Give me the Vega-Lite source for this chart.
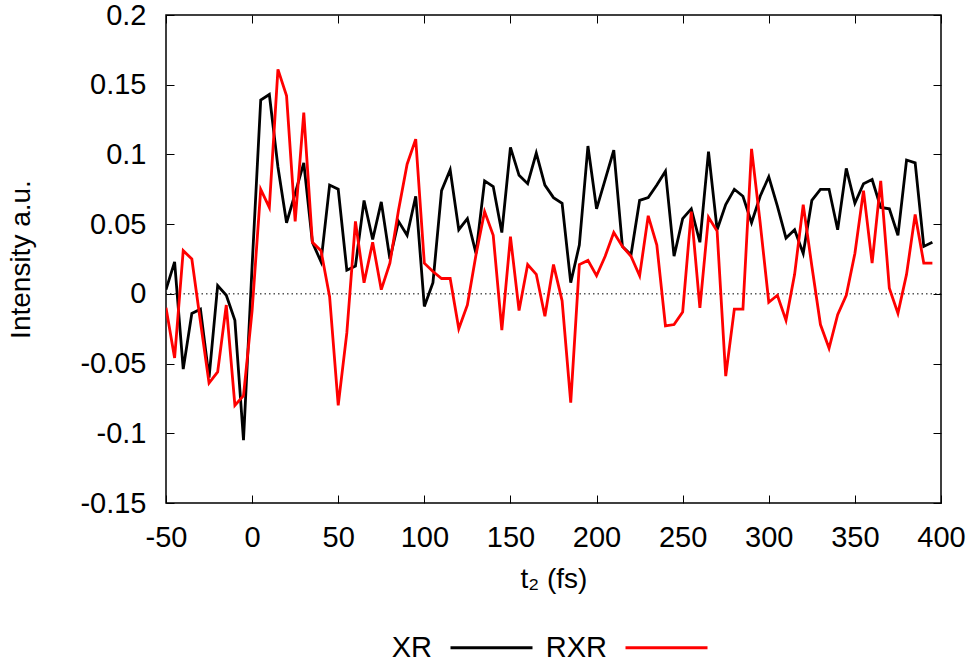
{
  "$schema": "https://vega.github.io/schema/vega-lite/v6.json",
  "autosize": "none",
  "padding": {"left": 166, "top": 15, "right": 34, "bottom": 159},
  "width": 775,
  "height": 488,
  "background": "white",
  "config": {
    "font": "Liberation Sans",
    "view": {"stroke": "black", "strokeWidth": 1.5},
    "axis": {"grid": false, "domain": false, "ticks": true, "tickColor": "black", "tickWidth": 1, "tickSize": -8, "labelFlush": false,
             "labelFont": "Liberation Sans", "labelFontSize": 29, "labelColor": "black",
             "titleFont": "Liberation Sans", "titleFontSize": 28, "titleFontWeight": "normal", "titleColor": "black"}
  },
  "datasets": {
    "series": [
      {"t": -50, "series": "XR", "value": 0.003}, {"t": -45, "series": "XR", "value": 0.023}, {"t": -40, "series": "XR", "value": -0.054},
      {"t": -35, "series": "XR", "value": -0.014}, {"t": -30, "series": "XR", "value": -0.011}, {"t": -25, "series": "XR", "value": -0.060},
      {"t": -20, "series": "XR", "value": 0.006}, {"t": -15, "series": "XR", "value": -0.001}, {"t": -10, "series": "XR", "value": -0.019},
      {"t": -5, "series": "XR", "value": -0.105}, {"t": 0, "series": "XR", "value": 0.02}, {"t": 5, "series": "XR", "value": 0.139},
      {"t": 10, "series": "XR", "value": 0.143}, {"t": 15, "series": "XR", "value": 0.091}, {"t": 20, "series": "XR", "value": 0.051},
      {"t": 25, "series": "XR", "value": 0.072}, {"t": 30, "series": "XR", "value": 0.094}, {"t": 35, "series": "XR", "value": 0.037},
      {"t": 40, "series": "XR", "value": 0.023}, {"t": 45, "series": "XR", "value": 0.078}, {"t": 50, "series": "XR", "value": 0.075},
      {"t": 55, "series": "XR", "value": 0.017}, {"t": 60, "series": "XR", "value": 0.020}, {"t": 65, "series": "XR", "value": 0.067},
      {"t": 70, "series": "XR", "value": 0.039}, {"t": 75, "series": "XR", "value": 0.066}, {"t": 80, "series": "XR", "value": 0.025},
      {"t": 85, "series": "XR", "value": 0.052}, {"t": 90, "series": "XR", "value": 0.042}, {"t": 95, "series": "XR", "value": 0.070},
      {"t": 100, "series": "XR", "value": -0.009}, {"t": 105, "series": "XR", "value": 0.008}, {"t": 110, "series": "XR", "value": 0.074},
      {"t": 115, "series": "XR", "value": 0.089}, {"t": 120, "series": "XR", "value": 0.046}, {"t": 125, "series": "XR", "value": 0.054},
      {"t": 130, "series": "XR", "value": 0.029}, {"t": 135, "series": "XR", "value": 0.081}, {"t": 140, "series": "XR", "value": 0.077},
      {"t": 145, "series": "XR", "value": 0.044}, {"t": 150, "series": "XR", "value": 0.105}, {"t": 155, "series": "XR", "value": 0.085},
      {"t": 160, "series": "XR", "value": 0.079}, {"t": 165, "series": "XR", "value": 0.101}, {"t": 170, "series": "XR", "value": 0.078},
      {"t": 175, "series": "XR", "value": 0.069}, {"t": 180, "series": "XR", "value": 0.065}, {"t": 185, "series": "XR", "value": 0.008},
      {"t": 190, "series": "XR", "value": 0.035}, {"t": 195, "series": "XR", "value": 0.106}, {"t": 200, "series": "XR", "value": 0.061},
      {"t": 205, "series": "XR", "value": 0.082}, {"t": 210, "series": "XR", "value": 0.103}, {"t": 215, "series": "XR", "value": 0.034},
      {"t": 220, "series": "XR", "value": 0.028}, {"t": 225, "series": "XR", "value": 0.067}, {"t": 230, "series": "XR", "value": 0.069},
      {"t": 235, "series": "XR", "value": 0.078}, {"t": 240, "series": "XR", "value": 0.088}, {"t": 245, "series": "XR", "value": 0.027},
      {"t": 250, "series": "XR", "value": 0.054}, {"t": 255, "series": "XR", "value": 0.061}, {"t": 260, "series": "XR", "value": 0.037},
      {"t": 265, "series": "XR", "value": 0.102}, {"t": 270, "series": "XR", "value": 0.046}, {"t": 275, "series": "XR", "value": 0.064},
      {"t": 280, "series": "XR", "value": 0.075}, {"t": 285, "series": "XR", "value": 0.070}, {"t": 290, "series": "XR", "value": 0.051},
      {"t": 295, "series": "XR", "value": 0.070}, {"t": 300, "series": "XR", "value": 0.084}, {"t": 305, "series": "XR", "value": 0.063},
      {"t": 310, "series": "XR", "value": 0.040}, {"t": 315, "series": "XR", "value": 0.046}, {"t": 320, "series": "XR", "value": 0.029},
      {"t": 325, "series": "XR", "value": 0.067}, {"t": 330, "series": "XR", "value": 0.075}, {"t": 335, "series": "XR", "value": 0.075},
      {"t": 340, "series": "XR", "value": 0.046}, {"t": 345, "series": "XR", "value": 0.090}, {"t": 350, "series": "XR", "value": 0.065},
      {"t": 355, "series": "XR", "value": 0.079}, {"t": 360, "series": "XR", "value": 0.082}, {"t": 365, "series": "XR", "value": 0.062},
      {"t": 370, "series": "XR", "value": 0.061}, {"t": 375, "series": "XR", "value": 0.042}, {"t": 380, "series": "XR", "value": 0.096},
      {"t": 385, "series": "XR", "value": 0.094}, {"t": 390, "series": "XR", "value": 0.034}, {"t": 395, "series": "XR", "value": 0.037},
      {"t": -50, "series": "RXR", "value": -0.010}, {"t": -45, "series": "RXR", "value": -0.046}, {"t": -40, "series": "RXR", "value": 0.031},
      {"t": -35, "series": "RXR", "value": 0.025}, {"t": -30, "series": "RXR", "value": -0.020}, {"t": -25, "series": "RXR", "value": -0.064},
      {"t": -20, "series": "RXR", "value": -0.056}, {"t": -15, "series": "RXR", "value": -0.008}, {"t": -10, "series": "RXR", "value": -0.080},
      {"t": -5, "series": "RXR", "value": -0.073}, {"t": 0, "series": "RXR", "value": -0.012}, {"t": 5, "series": "RXR", "value": 0.075},
      {"t": 10, "series": "RXR", "value": 0.062}, {"t": 15, "series": "RXR", "value": 0.161}, {"t": 20, "series": "RXR", "value": 0.142},
      {"t": 25, "series": "RXR", "value": 0.052}, {"t": 30, "series": "RXR", "value": 0.130}, {"t": 35, "series": "RXR", "value": 0.037},
      {"t": 40, "series": "RXR", "value": 0.031}, {"t": 45, "series": "RXR", "value": -0.002}, {"t": 50, "series": "RXR", "value": -0.080},
      {"t": 55, "series": "RXR", "value": -0.028}, {"t": 60, "series": "RXR", "value": 0.052}, {"t": 65, "series": "RXR", "value": 0.008},
      {"t": 70, "series": "RXR", "value": 0.037}, {"t": 75, "series": "RXR", "value": 0.003}, {"t": 80, "series": "RXR", "value": 0.022},
      {"t": 85, "series": "RXR", "value": 0.060}, {"t": 90, "series": "RXR", "value": 0.093}, {"t": 95, "series": "RXR", "value": 0.111},
      {"t": 100, "series": "RXR", "value": 0.022}, {"t": 105, "series": "RXR", "value": 0.016}, {"t": 110, "series": "RXR", "value": 0.011},
      {"t": 115, "series": "RXR", "value": 0.011}, {"t": 120, "series": "RXR", "value": -0.025}, {"t": 125, "series": "RXR", "value": -0.008},
      {"t": 130, "series": "RXR", "value": 0.028}, {"t": 135, "series": "RXR", "value": 0.059}, {"t": 140, "series": "RXR", "value": 0.042},
      {"t": 145, "series": "RXR", "value": -0.026}, {"t": 150, "series": "RXR", "value": 0.041}, {"t": 155, "series": "RXR", "value": -0.012},
      {"t": 160, "series": "RXR", "value": 0.021}, {"t": 165, "series": "RXR", "value": 0.014}, {"t": 170, "series": "RXR", "value": -0.016},
      {"t": 175, "series": "RXR", "value": 0.021}, {"t": 180, "series": "RXR", "value": -0.005}, {"t": 185, "series": "RXR", "value": -0.078},
      {"t": 190, "series": "RXR", "value": 0.021}, {"t": 195, "series": "RXR", "value": 0.024}, {"t": 200, "series": "RXR", "value": 0.013},
      {"t": 205, "series": "RXR", "value": 0.027}, {"t": 210, "series": "RXR", "value": 0.044}, {"t": 215, "series": "RXR", "value": 0.034},
      {"t": 220, "series": "RXR", "value": 0.027}, {"t": 225, "series": "RXR", "value": 0.013}, {"t": 230, "series": "RXR", "value": 0.056},
      {"t": 235, "series": "RXR", "value": 0.035}, {"t": 240, "series": "RXR", "value": -0.023}, {"t": 245, "series": "RXR", "value": -0.022},
      {"t": 250, "series": "RXR", "value": -0.013}, {"t": 255, "series": "RXR", "value": 0.059}, {"t": 260, "series": "RXR", "value": -0.010},
      {"t": 265, "series": "RXR", "value": 0.055}, {"t": 270, "series": "RXR", "value": 0.045}, {"t": 275, "series": "RXR", "value": -0.059},
      {"t": 280, "series": "RXR", "value": -0.011}, {"t": 285, "series": "RXR", "value": -0.011}, {"t": 290, "series": "RXR", "value": 0.104},
      {"t": 295, "series": "RXR", "value": 0.051}, {"t": 300, "series": "RXR", "value": -0.006}, {"t": 305, "series": "RXR", "value": -0.001},
      {"t": 310, "series": "RXR", "value": -0.019}, {"t": 315, "series": "RXR", "value": 0.014}, {"t": 320, "series": "RXR", "value": 0.064},
      {"t": 325, "series": "RXR", "value": 0.020}, {"t": 330, "series": "RXR", "value": -0.022}, {"t": 335, "series": "RXR", "value": -0.039},
      {"t": 340, "series": "RXR", "value": -0.015}, {"t": 345, "series": "RXR", "value": -0.001}, {"t": 350, "series": "RXR", "value": 0.029},
      {"t": 355, "series": "RXR", "value": 0.074}, {"t": 360, "series": "RXR", "value": 0.022}, {"t": 365, "series": "RXR", "value": 0.081},
      {"t": 370, "series": "RXR", "value": 0.004}, {"t": 375, "series": "RXR", "value": -0.014}, {"t": 380, "series": "RXR", "value": 0.014},
      {"t": 385, "series": "RXR", "value": 0.057}, {"t": 390, "series": "RXR", "value": 0.022}, {"t": 395, "series": "RXR", "value": 0.022}
    ]
  },
  "layer": [
    {
      "data": {"values": [{"zero": 0}]},
      "mark": {"type": "rule", "color": "black", "strokeWidth": 1, "strokeDash": [1.5, 3]},
      "encoding": {
        "y": {"field": "zero", "type": "quantitative", "scale": {"domain": [-0.15, 0.2], "nice": false}, "axis": null}
      }
    },
    {
      "data": {"name": "series"},
      "mark": {"type": "line", "strokeWidth": 2.8, "strokeJoin": "miter", "clip": true},
      "encoding": {
        "x": {"field": "t", "type": "quantitative", "scale": {"domain": [-50, 400], "nice": false},
              "axis": {"orient": "bottom", "values": [-50, 0, 50, 100, 150, 200, 250, 300, 350, 400], "ticks": true, "tickSize": -8, "labelPadding": 28, "labelFlush": false,
                       "labelExpr": "replace(format(datum.value, '~g'), '\u2212', '-')", "title": "t\u2082 (fs)", "titlePadding": 13}},
        "y": {"field": "value", "type": "quantitative", "scale": {"domain": [-0.15, 0.2], "nice": false},
              "axis": {"orient": "left", "values": [-0.15, -0.1, -0.05, 0, 0.05, 0.1, 0.15, 0.2], "ticks": true, "tickSize": -8, "labelPadding": 28, "labelFlush": false,
                       "labelExpr": "replace(format(datum.value, '~g'), '\u2212', '-')", "title": "Intensity a.u.", "titlePadding": 44}},
        "color": {"field": "series", "type": "nominal",
                  "scale": {"domain": ["XR", "RXR"], "range": ["#000000", "#ff0000"]},
                  "legend": {"title": null, "orient": "none", "direction": "horizontal", "legendX": 283, "legendY": 590,
                             "symbolType": "stroke", "symbolSize": 6724, "symbolStrokeWidth": 2.8,
                             "labelFont": "Liberation Sans", "labelFontSize": 29, "labelColor": "black",
                             "labelAlign": "right", "labelOffset": -102, "columnPadding": 6}},
        "order": {"field": "t", "type": "quantitative"}
      }
    },
    {
      "data": {"name": "series"},
      "mark": {"type": "point", "opacity": 0},
      "encoding": {
        "x": {"field": "t", "type": "quantitative", "scale": {"domain": [-50, 400], "nice": false},
              "axis": {"orient": "top", "values": [-50, 0, 50, 100, 150, 200, 250, 300, 350, 400], "ticks": true, "tickSize": -8, "labels": false, "title": null}},
        "y": {"field": "value", "type": "quantitative", "scale": {"domain": [-0.15, 0.2], "nice": false},
              "axis": {"orient": "right", "values": [-0.15, -0.1, -0.05, 0, 0.05, 0.1, 0.15, 0.2], "ticks": true, "tickSize": -8, "labels": false, "title": null}}
      }
    }
  ],
  "resolve": {"axis": {"x": "independent", "y": "independent"}}
}
